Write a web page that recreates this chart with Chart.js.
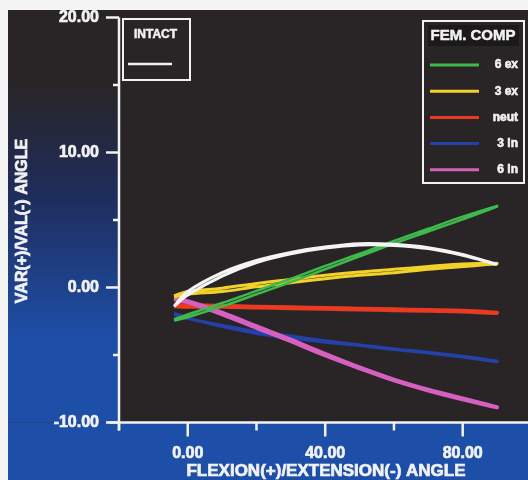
<!DOCTYPE html>
<html>
<head>
<meta charset="utf-8">
<script src="https://cdn.jsdelivr.net/npm/chart.js@4.4.1/dist/chart.umd.min.js"></script>
<style>
  html, body { margin: 0; padding: 0; background: #f4f4f4; }
  #wrap { position: absolute; left: 8px; top: 10px; width: 520px; height: 470px; }
</style>
</head>
<body>
<div id="wrap"><canvas id="kneeChart" width="520" height="470"></canvas></div>
<script>
// flexion angle grid (deg) shared by every curve
const flexion = [-4, 0, 10, 20, 30, 40, 50, 60, 70, 80, 90];

// each curve is a loop: loading branch then unloading branch
const intactUp = [-1.4, -0.3, 1.1, 2.0, 2.6, 3.0, 3.25, 3.2, 2.95, 2.45, 1.7];
const intactDn = [-1.4, -0.55, 0.85, 1.85, 2.5, 2.92, 3.15, 3.12, 2.88, 2.38, 1.7];
const ex6Up = [-2.35, -2.0, -1.15, -0.25, 0.65, 1.6, 2.5, 3.45, 4.35, 5.25, 6.05];
const ex6Dn = [-2.45, -2.2, -1.4, -0.5, 0.4, 1.35, 2.3, 3.25, 4.15, 5.05, 6.0];
const ex3Up = [-0.6, -0.3, -0.05, 0.3, 0.6, 0.9, 1.15, 1.35, 1.55, 1.75, 1.8];
const ex3Dn = [-0.7, -0.5, -0.3, 0.05, 0.35, 0.65, 0.9, 1.1, 1.35, 1.55, 1.75];
const neutUp = [-1.3, -1.3, -1.35, -1.4, -1.45, -1.5, -1.55, -1.6, -1.65, -1.7, -1.85];
const neutDn = [-1.4, -1.45, -1.45, -1.5, -1.55, -1.6, -1.65, -1.7, -1.75, -1.8, -1.9];
const in3Up = [-2.0, -2.3, -2.8, -3.25, -3.6, -3.95, -4.25, -4.55, -4.8, -5.1, -5.45];
const in3Dn = [-1.9, -2.25, -2.9, -3.4, -3.75, -4.05, -4.3, -4.6, -4.85, -5.15, -5.5];
const in6Up = [-0.8, -1.0, -1.85, -2.85, -3.85, -4.9, -5.9, -6.8, -7.55, -8.2, -8.85];
const in6Dn = [-0.9, -1.1, -2.0, -3.0, -4.0, -5.05, -6.0, -6.9, -7.65, -8.3, -8.9];

const compLabels = ['6 ex', '3 ex', 'neut', '3 in', '6 in'];
const compColors = ['#3fb94c', '#f2d22a', '#ea3a22', '#2341a8', '#d660bf'];

const yTicks = [-10, -5, 0, 5, 10, 15, 20];
const yMajor = [-10, 0, 10, 20];
const xTicks = [-20, 0, 20, 40, 60, 80];
const xMajor = [0, 40, 80];

const FONT = '"Liberation Sans", Arial, sans-serif';
const DARK = '#292526';
const BLUE = '#1d4fa8';
const INK = '#f2f2f2';

function loop(up, dn) {
    const pts = flexion.map((x, i) => ({ x: x, y: up[i] }));
    for (let i = flexion.length - 1; i >= 0; i--) pts.push({ x: flexion[i], y: dn[i] });
    return pts;
}

function curve(label, up, dn, color, width, order) {
    return {
        label: label,
        data: loop(up, dn),
        borderColor: color,
        borderWidth: width,
        pointRadius: 0,
        showLine: true,
        tension: 0.35,
        fill: false,
        order: order
    };
}

// heavy text: fill plus a thin stroke to look like the black-weight original
function boldText(ctx, t, x, y) {
    ctx.fillText(t, x, y);
    ctx.strokeText(t, x, y);
}

// background panels, axes, ticks and the two boxed legends
const decor = {
    id: 'decor',
    beforeDraw(chart) {
        const { ctx, chartArea: a, width, height } = chart;
        ctx.save();
        ctx.fillStyle = DARK;
        ctx.fillRect(0, 0, width, height);
        const g = ctx.createLinearGradient(0, 70, 0, 330);
        g.addColorStop(0, DARK);
        g.addColorStop(0.45, '#1f2d5c');
        g.addColorStop(1, BLUE);
        ctx.fillStyle = g;
        ctx.fillRect(0, 0, a.left, a.bottom);
        ctx.fillStyle = BLUE;
        ctx.fillRect(0, a.bottom, width, height - a.bottom);
        ctx.restore();
    },
    afterDraw(chart) {
        const { ctx, chartArea: a } = chart;
        const xs = chart.scales.x, ys = chart.scales.y;
        ctx.save();
        ctx.strokeStyle = INK;
        ctx.fillStyle = INK;
        ctx.lineWidth = 2.5;
        // axis lines
        ctx.beginPath();
        ctx.moveTo(a.left, ys.getPixelForValue(20));
        ctx.lineTo(a.left, a.bottom + 8);
        ctx.moveTo(a.left - 10, a.bottom);
        ctx.lineTo(a.right, a.bottom);
        ctx.stroke();
        // y ticks
        ctx.font = 'bold 16px ' + FONT;
        ctx.textAlign = 'right';
        ctx.textBaseline = 'middle';
        yTicks.forEach(v => {
            const py = ys.getPixelForValue(v);
            const major = yMajor.includes(v);
            ctx.lineWidth = 2.5;
            ctx.beginPath();
            ctx.moveTo(a.left - (major ? 13 : 6), py);
            ctx.lineTo(a.left, py);
            ctx.stroke();
            ctx.lineWidth = 0.7;
            if (major) boldText(ctx, v.toFixed(2), a.left - 20, py);
        });
        // x ticks
        ctx.textAlign = 'center';
        xTicks.forEach(v => {
            const px = xs.getPixelForValue(v);
            const major = xMajor.includes(v);
            ctx.lineWidth = 2.5;
            ctx.beginPath();
            ctx.moveTo(px, a.bottom);
            ctx.lineTo(px, a.bottom + (major ? 14 : 8));
            ctx.stroke();
            ctx.lineWidth = 0.7;
            if (major) boldText(ctx, v.toFixed(2), px, a.bottom + 31);
        });
        // axis titles
        ctx.font = 'bold 17px ' + FONT;
        boldText(ctx, 'FLEXION(+)/EXTENSION(-) ANGLE', 318, a.bottom + 49);
        ctx.save();
        ctx.translate(15, 211);
        ctx.rotate(-Math.PI / 2);
        ctx.font = 'bold 16px ' + FONT;
        boldText(ctx, 'VAR(+)/VAL(-) ANGLE', 0, 0);
        ctx.restore();

        // INTACT box
        ctx.lineWidth = 2;
        ctx.strokeRect(115, 9, 67, 61);
        ctx.font = 'bold 12px ' + FONT;
        ctx.lineWidth = 0.5;
        boldText(ctx, 'INTACT', 147.5, 25);
        ctx.lineWidth = 2.5;
        ctx.beginPath();
        ctx.moveTo(120, 54);
        ctx.lineTo(164, 54);
        ctx.stroke();

        // FEM. COMP box
        ctx.lineWidth = 2;
        ctx.strokeRect(415, 11, 101, 162);
        ctx.fillStyle = '#1b1919';
        ctx.fillRect(420, 15, 91, 21);
        ctx.fillStyle = INK;
        ctx.font = 'bold 15px ' + FONT;
        ctx.lineWidth = 0.5;
        boldText(ctx, 'FEM. COMP', 465, 26);
        ctx.font = 'bold 12px ' + FONT;
        ctx.textAlign = 'right';
        compLabels.forEach((t, i) => {
            const py = 55 + i * 26.2;
            ctx.strokeStyle = compColors[i];
            ctx.lineWidth = 3;
            ctx.beginPath();
            ctx.moveTo(422, py);
            ctx.lineTo(471, py);
            ctx.stroke();
            ctx.strokeStyle = INK;
            ctx.lineWidth = 0.6;
            boldText(ctx, t, 510, py);
        });
        ctx.restore();
    }
};

const ctx = document.getElementById('kneeChart').getContext('2d');
new Chart(ctx, {
    type: 'scatter',
    data: {
        datasets: [
            curve('INTACT', intactUp, intactDn, '#f4f4f4', 3, 0),
            curve(compLabels[0], ex6Up, ex6Dn, compColors[0], 2.5, 1),
            curve(compLabels[1], ex3Up, ex3Dn, compColors[1], 3, 2),
            curve(compLabels[4], in6Up, in6Dn, compColors[4], 3.5, 3),
            curve(compLabels[3], in3Up, in3Dn, compColors[3], 3, 4),
            curve(compLabels[2], neutUp, neutDn, compColors[2], 3.5, 5)
        ]
    },
    options: {
        responsive: false,
        animation: false,
        events: [],
        layout: { padding: { top: 7.5, right: 0, left: 0, bottom: 0 } },
        plugins: { legend: { display: false }, tooltip: { enabled: false } },
        scales: {
            x: {
                type: 'linear', min: -20, max: 99,
                grid: { display: false }, border: { display: false },
                ticks: { display: false },
                afterFit(s) { s.height = 57.5; }
            },
            y: {
                type: 'linear', min: -10, max: 20,
                grid: { display: false }, border: { display: false },
                ticks: { display: false },
                afterFit(s) { s.width = 111; }
            }
        }
    },
    plugins: [decor]
});
</script>
</body>
</html>
